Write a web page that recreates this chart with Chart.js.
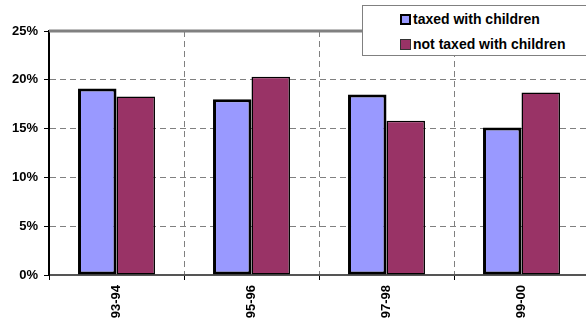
<!DOCTYPE html>
<html>
<head>
<meta charset="utf-8">
<script src="https://cdn.jsdelivr.net/npm/chart.js@4/dist/chart.umd.min.js"></script>
<style>
  html, body { margin: 0; padding: 0; background: #fff; overflow: hidden; width: 586px; height: 324px; }
  #wrap { position: relative; width: 600px; height: 324px; }
  #legend {
    position: absolute; left: 362px; top: 5px; width: 240px; height: 49px;
    border: 1px solid #808080; background: #fff;
    font: bold 14px Arial, "Liberation Sans", sans-serif; color: #000;
  }
  .item { position: absolute; left: 37px; height: 16px; line-height: 16px; white-space: nowrap; }
  .sw { display: inline-block; box-sizing: border-box; width: 11px; height: 11px; vertical-align: -1px; margin-right: 2px; }
</style>
</head>
<body>
<div id="wrap">
  <canvas id="c" width="600" height="324"></canvas>
  <div id="legend">
    <div class="item" style="top:5px"><span class="sw" style="background:#9999FF;border:2.5px solid #000"></span>taxed with children</div>
    <div class="item" style="top:30px"><span class="sw" style="background:#993366;border:1px solid #333"></span>not taxed with children</div>
  </div>
</div>
<script>
// Share of families, by survey year
const years = ['93-94', '95-96', '97-98', '99-00'];
const taxedWithChildren = [19.1, 18.0, 18.5, 15.1];
const notTaxedWithChildren = [18.3, 20.3, 15.8, 18.7];
const yTicks = [0, 5, 10, 15, 20, 25];

// Plot frame: heavy gray top edge
const frame = {
  id: 'frame',
  afterDraw(chart) {
    const { ctx, chartArea: a } = chart;
    ctx.save();
    ctx.strokeStyle = '#808080';
    ctx.lineWidth = 3;
    ctx.beginPath();
    ctx.moveTo(a.left, a.top);
    ctx.lineTo(a.right + 20, a.top);
    ctx.stroke();
    ctx.restore();
  }
};

const labelFont = { family: 'Arial, "Liberation Sans", sans-serif', size: 13, weight: 'bold' };

new Chart(document.getElementById('c'), {
  type: 'bar',
  data: {
    labels: years,
    datasets: [
      {
        label: 'taxed with children',
        data: taxedWithChildren,
        backgroundColor: '#9999FF',
        borderColor: '#000',
        borderWidth: 3,
        borderSkipped: false
      },
      {
        label: 'not taxed with children',
        data: notTaxedWithChildren,
        backgroundColor: '#993366',
        borderColor: '#000',
        borderWidth: 1.5,
        borderSkipped: false
      }
    ]
  },
  options: {
    responsive: false,
    animation: false,
    devicePixelRatio: 1,
    layout: { padding: { top: 31, right: 11, left: 0, bottom: 0 } },
    datasets: { bar: { categoryPercentage: 0.57, barPercentage: 1.0 } },
    plugins: { legend: { display: false }, tooltip: { enabled: false } },
    scales: {
      x: {
        offset: true,
        grid: { offset: true, color: '#808080', tickColor: '#000', tickLength: 5, lineWidth: 1 },
        border: { color: '#555', width: 2, dash: [6, 4] },
        ticks: {
          color: '#000',
          font: labelFont,
          minRotation: 90, maxRotation: 90, padding: 5, autoSkip: false
        },
        afterFit(scale) { scale.height = 49; }
      },
      y: {
        min: 0, max: 25,
        afterBuildTicks(scale) { scale.ticks = yTicks.map(v => ({ value: v })); },
        grid: {
          color: (c) => c.tick && c.tick.value === 25 ? 'rgba(0,0,0,0)' : '#808080',
          tickColor: '#000', tickLength: 5, lineWidth: 1
        },
        border: { color: '#000', width: 2, dash: [6, 4] },
        ticks: {
          color: '#000',
          font: labelFont,
          padding: 6,
          callback: (v) => v + '%'
        },
        afterFit(scale) { scale.width = 49; }
      }
    }
  },
  plugins: [frame]
});
</script>
</body>
</html>
